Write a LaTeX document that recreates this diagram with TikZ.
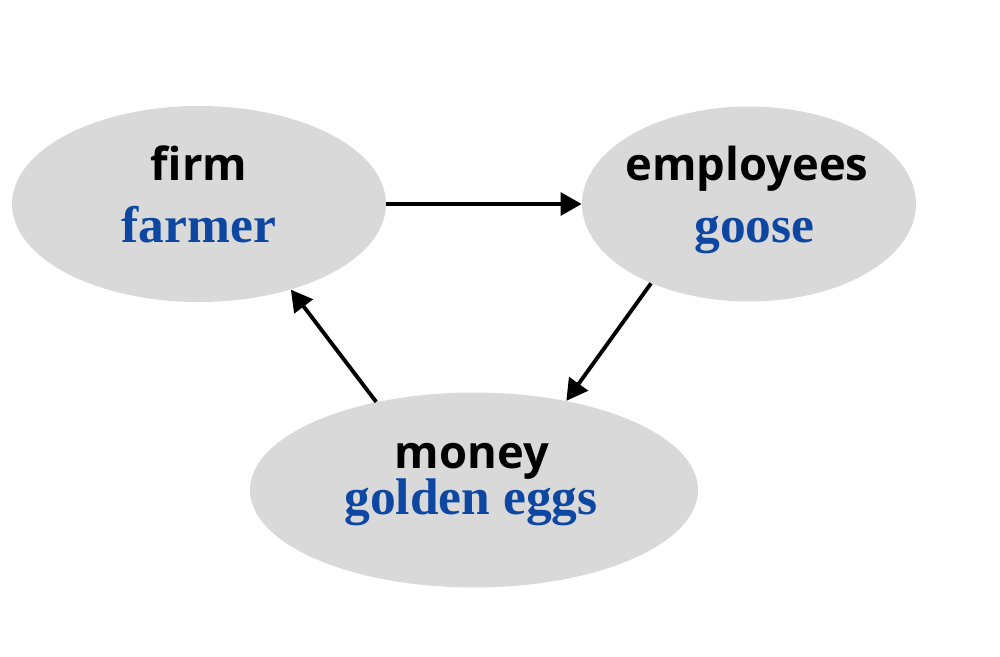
\documentclass[tikz,border=0pt]{standalone}
\usepackage{fontspec}
\setsansfont{Open Sans}
\newfontfamily\storyfont{Liberation Serif}
\usetikzlibrary{shapes.geometric,arrows.meta}

\definecolor{bubblegray}{HTML}{D9D9D9}
\definecolor{storyblue}{HTML}{0D47A1}

\tikzset{
    bubble/.style={shape=ellipse, fill=bubblegray, draw=none, inner sep=0pt},
    realword/.style={anchor=base, font=\sffamily\bfseries\fontsize{25.8}{30}\selectfont, text=black},
    storyword/.style={anchor=base, font=\storyfont\bfseries\fontsize{29.3}{34}\selectfont, text=storyblue},
    flow/.style={line width=2.2pt, -{Triangle[length=12pt, width=13pt]}}
}

\begin{document}
\begin{tikzpicture}
    \useasboundingbox (0,0) rectangle (20,13.12);
    \node[bubble, minimum width=7.48cm, minimum height=3.92cm] at (3.98,9.04) (firm) {};
    \node[bubble, minimum width=6.68cm, minimum height=3.9cm] at (14.98,9.04) (emp) {};
    \node[bubble, minimum width=8.96cm, minimum height=3.9cm] at (9.48,3.32) (money) {};
    \node[realword] at (3.98,9.52) (firmtxt) {firm};
    \node[storyword] at (3.98,8.28) (farmertxt) {farmer};
    \node[realword] at (14.94,9.52) (emptxt) {employees};
    \node[storyword] at (15.09,8.28) (goosetxt) {goose};
    \node[realword] at (9.44,3.76) (moneytxt) {money};
    \node[storyword] at (9.42,2.84) (eggstxt) {golden eggs};
    \path [flow] (firm.east) edge (emp.west);
    \path [flow] (emp.219) edge (money.44);
    \path [flow] (money.138) edge (firm.317);
\end{tikzpicture}
\end{document}
